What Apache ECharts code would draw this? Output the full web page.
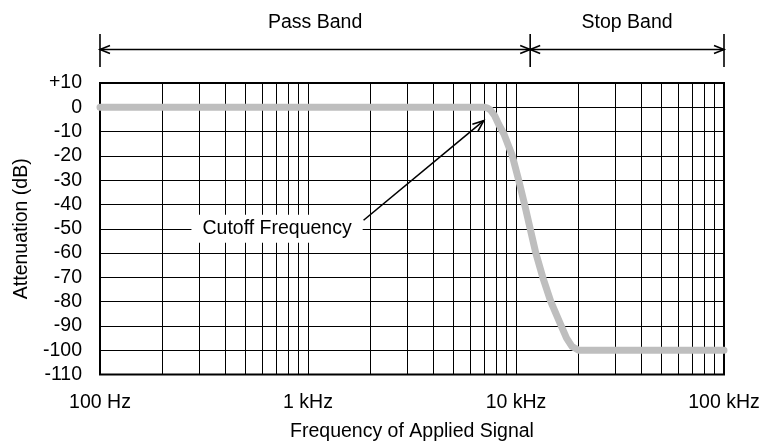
<!DOCTYPE html>
<html>
<head>
<meta charset="utf-8">
<script src="https://cdn.jsdelivr.net/npm/echarts@6/dist/echarts.min.js"></script>
<style>html,body{margin:0;padding:0;background:#fff;}#c{width:762px;height:444px;}</style>
</head>
<body>
<div id="c"></div>
<script>
// ---- data ----
const freqTicks = [100, 1000, 10000, 100000];
const freqTickLabels = ['100 Hz', '1 kHz', '10 kHz', '100 kHz'];
const minorFreqs = [200,300,400,500,600,700,800,900,2000,3000,4000,5000,6000,7000,8000,9000,20000,30000,40000,50000,60000,70000,80000,90000];
const curveFreq = [100, 7100, 7300, 7550, 7900, 8250, 8750, 9600, 10300, 11000, 11700, 12450, 13450, 14700, 16300, 17500, 18600, 20000, 100000];
const curveDb   = [0,   0,    -0.3, -1.2, -3.5, -7,   -11,  -20,  -30,   -40,   -50,   -60,   -70,   -80,   -89,   -95,   -98.5, -100,  -100];
const bandEdges = [100, 11700, 100000];
const bandLabels = ['Pass Band', 'Stop Band'];
const cutoffLabel = 'Cutoff Frequency';
const cutoffTextAt = [710, -50];
const cutoffArrowTail = [1850, -46.5];
const cutoffArrowTip = [7000, -5.5];

const FONT = 'Liberation Sans, Arial, Helvetica, sans-serif';
const FS = 19.5;

const chart = echarts.init(document.getElementById('c'), null, {renderer: 'canvas'});
const curveData = curveFreq.map((f, i) => [f, curveDb[i]]);

chart.setOption({
  animation: false,
  backgroundColor: '#fff',
  grid: {left: 100, right: 38, top: 83, bottom: 69.5, containLabel: false, outerBoundsMode: 'none',
    show: true, borderColor: '#000', borderWidth: 2, backgroundColor: 'transparent'},
  xAxis: {
    type: 'log', logBase: 10, min: 100, max: 100000,
    name: 'Frequency of Applied Signal', nameLocation: 'middle', nameGap: 47,
    nameTextStyle: {fontFamily: FONT, fontSize: FS, color: '#000'},
    axisLine: {show: false}, axisTick: {show: false},
    axisLabel: {margin: 18, fontFamily: FONT, fontSize: FS, color: '#000',
      formatter: v => { const i = freqTicks.findIndex(t => Math.abs(t - v) / t < 1e-6); return i >= 0 ? freqTickLabels[i] : ''; }},
    splitLine: {show: true, lineStyle: {color: '#000', width: 1}},
    minorTick: {show: false}, minorSplitLine: {show: false}
  },
  yAxis: {
    type: 'value', min: -110, max: 10, interval: 10,
    name: 'Attenuation (dB)', nameLocation: 'middle', nameGap: 68, nameRotate: 90,
    nameTextStyle: {fontFamily: FONT, fontSize: FS, color: '#000'},
    axisLine: {show: false}, axisTick: {show: false},
    axisLabel: {margin: 18, fontFamily: FONT, fontSize: FS, color: '#000',
      formatter: v => (v > 0 ? '+' + v : String(v))},
    splitLine: {show: true, lineStyle: {color: '#000', width: 1}}
  },
  series: [
    {
      type: 'line', data: [], z: 1, silent: true,
      markLine: {
        silent: true, symbol: ['none', 'none'], animation: false,
        label: {show: false},
        lineStyle: {color: '#000', width: 1, type: 'solid'},
        emphasis: {disabled: true},
        data: minorFreqs.map(f => ({xAxis: f}))
      }
    },
    {
      type: 'line', data: curveData, z: 5, silent: true, clip: false,
      showSymbol: false, symbol: 'none', smooth: false,
      lineStyle: {color: '#bebebe', width: 7, cap: 'round', join: 'round'}
    }
  ]
});

// ---- annotations positioned through the axes ----
const px = f => chart.convertToPixel({xAxisIndex: 0}, f);
const py = v => chart.convertToPixel({yAxisIndex: 0}, v);
const g = [];
const LW = 1.6;
const yLine = 49.5, yTop = 34, yBot = 67, yLabel = 22.5;
bandEdges.forEach(f => {
  const x = px(f);
  g.push({type: 'line', z: 100, shape: {x1: x, y1: yTop, x2: x, y2: yBot}, style: {stroke: '#000', lineWidth: LW}});
});
for (let i = 0; i < bandLabels.length; i++) {
  const a = px(bandEdges[i]), b = px(bandEdges[i + 1]);
  g.push({type: 'line', z: 100, shape: {x1: a, y1: yLine, x2: b, y2: yLine}, style: {stroke: '#000', lineWidth: LW}});
  g.push({type: 'polyline', z: 100, shape: {points: [[a + 10, yLine - 4], [a, yLine], [a + 10, yLine + 4]]}, style: {stroke: '#000', fill: null, lineWidth: LW}});
  g.push({type: 'polyline', z: 100, shape: {points: [[b - 10, yLine - 4], [b, yLine], [b - 10, yLine + 4]]}, style: {stroke: '#000', fill: null, lineWidth: LW}});
  g.push({type: 'text', z: 100, x: (a + b) / 2, y: yLabel, style: {text: bandLabels[i], font: FS + 'px ' + FONT, fill: '#000', align: 'center', verticalAlign: 'middle'}});
}
// cutoff arrow
const tx = px(cutoffArrowTail[0]), ty = py(cutoffArrowTail[1]);
const hx = px(cutoffArrowTip[0]), hy = py(cutoffArrowTip[1]);
g.push({type: 'line', z: 100, shape: {x1: tx, y1: ty, x2: hx, y2: hy}, style: {stroke: '#000', lineWidth: LW}});
const ang = Math.atan2(hy - ty, hx - tx), L = 12, sp = 0.38;
g.push({type: 'polyline', z: 100, shape: {points: [
  [hx - L * Math.cos(ang - sp), hy - L * Math.sin(ang - sp)], [hx, hy],
  [hx - L * Math.cos(ang + sp), hy - L * Math.sin(ang + sp)]]}, style: {stroke: '#000', fill: null, lineWidth: LW}});
g.push({type: 'text', z: 101, x: px(cutoffTextAt[0]), y: py(cutoffTextAt[1]),
  style: {text: cutoffLabel, font: FS + 'px ' + FONT, fill: '#000', align: 'center', verticalAlign: 'middle',
    backgroundColor: '#fff', padding: [4, 11, 4, 11]}});
chart.setOption({graphic: {elements: g}});
</script>
</body>
</html>
